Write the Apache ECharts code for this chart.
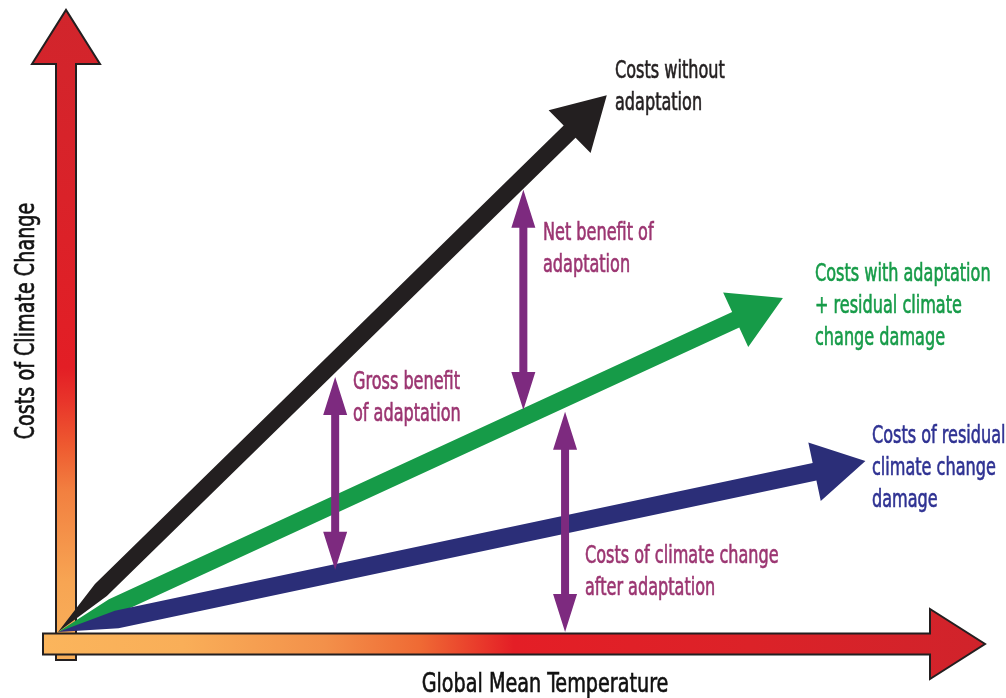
<!DOCTYPE html>
<html><head><meta charset="utf-8">
<script src="https://cdn.jsdelivr.net/npm/echarts@6/dist/echarts.min.js"></script>
<style>html,body{margin:0;padding:0;background:#fff}#c{width:1006px;height:698px}</style>
</head><body><div id="c"></div>
<script>
// ---- data (in abstract units: temperature / cost) ----
const tempRange = [0, 10];
const costRange = [0, 10];
const curveNames = ['Costs without adaptation', 'Costs with adaptation + residual climate change damage', 'Costs of residual climate change damage'];
const curveEndTemp = [5.92, 7.82, 8.71];
const curveEndCost = [8.63, 5.37, 2.75];
const gapNames = ['Gross benefit of adaptation', 'Net benefit of adaptation', 'Costs of climate change after adaptation'];
const gapTemp = [2.99, 5.02, 5.47];
const gapLow = [1.00, 3.57, 0.00];
const gapHigh = [4.10, 7.11, 3.54];

// ---- styles ----
const curveColors = ['#231F20', '#169B48', '#2B2E78'];
const curveWidths = [17, 17, 18];
const purple = '#7D2A7F';
const purpleText = '#9B3571';
const FONT = "'DejaVu Sans Condensed','Liberation Sans Narrow',sans-serif";

function bandArrow(o, t, w, hl, hw, taper) {
  const dx = t[0] - o[0], dy = t[1] - o[1];
  const L = Math.hypot(dx, dy);
  const ux = dx / L, uy = dy / L, nx = -uy, ny = ux;
  const P = (s, n) => [o[0] + ux * s + nx * n, o[1] + uy * s + ny * n];
  const b = L - hl;
  return [P(0, 0), P(taper, w / 2), P(b, w / 2), P(b, hw / 2), P(L, 0),
          P(b, -hw / 2), P(b, -w / 2), P(taper, -w / 2)];
}

function curveSeries(i) {
  return {
    type: 'custom', name: curveNames[i], clip: false,
    data: [[curveEndTemp[i], curveEndCost[i]]],
    renderItem: function (params, api) {
      const o = api.coord([tempRange[0], costRange[0]]);
      const t = api.coord([api.value(0), api.value(1)]);
      return { type: 'polygon', shape: { points: bandArrow(o, t, curveWidths[i], 52, 60, 60) },
               style: { fill: curveColors[i] } };
    }
  };
}

const gapSeries = {
  type: 'custom', name: 'gaps', clip: false,
  data: gapTemp.map((x, i) => [x, gapLow[i], gapHigh[i]]),
  renderItem: function (params, api) {
    const p0 = api.coord([api.value(0), api.value(1)]);
    const p1 = api.coord([api.value(0), api.value(2)]);
    const x = p0[0], y0 = p0[1], y1 = p1[1];
    const w = 8, hw = 24, hl = 38;
    const pts = [[x, y1], [x + hw / 2, y1 + hl], [x + w / 2, y1 + hl], [x + w / 2, y0 - hl], [x + hw / 2, y0 - hl],
                 [x, y0], [x - hw / 2, y0 - hl], [x - w / 2, y0 - hl], [x - w / 2, y1 + hl], [x - hw / 2, y1 + hl]];
    return { type: 'polygon', shape: { points: pts }, style: { fill: purple } };
  }
};

const axisSeries = {
  type: 'custom', name: 'axes', clip: false,
  data: [[tempRange[1], costRange[1]]],
  renderItem: function (params, api) {
    const o = api.coord([tempRange[0], costRange[0]]);
    const xt = api.coord([api.value(0), costRange[0]]);
    const yt = api.coord([tempRange[0], api.value(1)]);
    const cx = o[0] + 8, yb = o[1] + 28, ytip = yt[1], yhb = ytip + 54;
    const yPts = [[cx - 10, yb], [cx - 10, yhb], [cx - 34, yhb], [cx, ytip], [cx + 34, yhb], [cx + 10, yhb], [cx + 10, yb]];
    const cy = o[1] + 12, xl = o[0] - 15, xtip = xt[0], xhb = xtip - 55;
    const xPts = [[xl, cy - 10.5], [xhb, cy - 10.5], [xhb, cy - 35], [xtip, cy], [xhb, cy + 35], [xhb, cy + 10.5], [xl, cy + 10.5]];
    const yGrad = new echarts.graphic.LinearGradient(0, 1, 0, 0, [
      { offset: 0, color: '#F9B05A' }, { offset: 0.12, color: '#F7A553' }, { offset: 0.26, color: '#F28040' },
      { offset: 0.33, color: '#EE5A30' }, { offset: 0.40, color: '#E8342A' }, { offset: 0.45, color: '#E31E25' },
      { offset: 0.71, color: '#DA2229' }, { offset: 1, color: '#D1252C' }]);
    const xGrad = new echarts.graphic.LinearGradient(0, 0, 1, 0, [
      { offset: 0, color: '#FBB55C' }, { offset: 0.15, color: '#F9AE58' }, { offset: 0.30, color: '#F3904A' },
      { offset: 0.40, color: '#EF6A34' }, { offset: 0.47, color: '#E8352A' }, { offset: 0.50, color: '#E41E26' },
      { offset: 0.75, color: '#DC2228' }, { offset: 1, color: '#D0232B' }]);
    return { type: 'group', children: [
      { type: 'polygon', shape: { points: yPts }, style: { fill: yGrad, stroke: '#231F20', lineWidth: 2, lineJoin: 'miter' } },
      { type: 'polygon', shape: { points: xPts }, style: { fill: xGrad, stroke: '#231F20', lineWidth: 2, lineJoin: 'miter' } }
    ] };
  }
};

function label(text, x, yc, color) {
  return { type: 'text', x: x, y: yc - 14, scaleX: 0.745, silent: true,
    style: { text: text, fill: color, stroke: color, lineWidth: 0.6, fontSize: 24, fontFamily: FONT,
             lineHeight: 32, align: 'left', verticalAlign: 'top' } };
}
function title(text, x, y, rot) {
  return { type: 'text', x: x, y: y, rotation: rot, scaleX: 0.82, silent: true,
    style: { text: text, fill: '#111111', stroke: '#111111', lineWidth: 0.6, fontSize: 26, fontFamily: FONT,
             align: 'center', verticalAlign: 'middle' } };
}

const chart = echarts.init(document.getElementById('c'), null, { renderer: 'canvas' });
chart.setOption({
  animation: false,
  backgroundColor: '#ffffff',
  grid: { left: 58, right: 21, top: 10, bottom: 66 },
  xAxis: { type: 'value', min: tempRange[0], max: tempRange[1], show: false },
  yAxis: { type: 'value', min: costRange[0], max: costRange[1], show: false },
  series: [axisSeries, curveSeries(0), curveSeries(1), curveSeries(2), gapSeries],
  graphic: { elements: [
    label('Costs without\nadaptation', 615, 70, '#231F20'),
    label('Net benefit of\nadaptation', 543, 232, purpleText),
    label('Costs with adaptation\n+ residual climate\nchange damage', 815, 273, '#169B48'),
    label('Gross benefit\nof adaptation', 353, 381, purpleText),
    label('Costs of residual\nclimate change\ndamage', 872, 435, '#2E3192'),
    label('Costs of climate change\nafter adaptation', 585, 555, purpleText),
    title('Costs of Climate Change', 27, 321, Math.PI / 2),
    title('Global Mean Temperature', 545, 685, 0)
  ] }
});
</script></body></html>
